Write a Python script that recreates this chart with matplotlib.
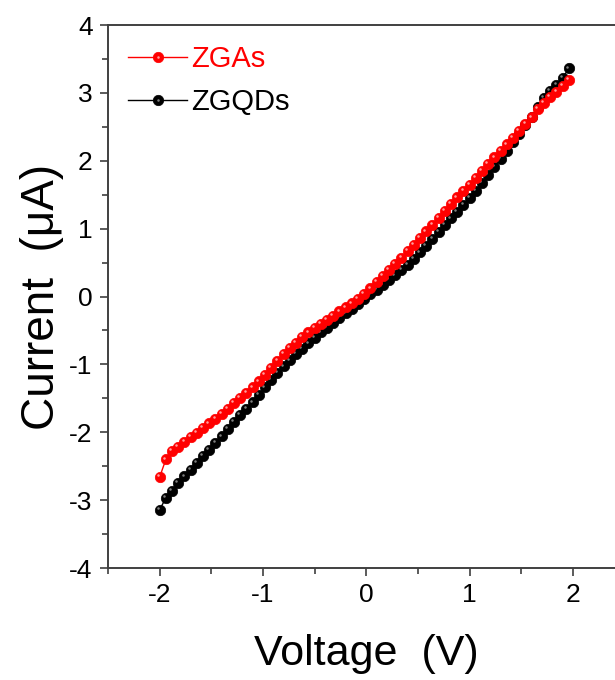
import matplotlib.pyplot as plt
import matplotlib.transforms as mtransforms
from matplotlib.legend_handler import HandlerTuple

plt.rcParams['font.family'] = ['Liberation Sans', 'DejaVu Sans']
plt.rcParams['axes.unicode_minus'] = False

voltage = [-2.00, -1.94, -1.88, -1.82, -1.76, -1.70, -1.64, -1.58, -1.52, -1.46,
           -1.40, -1.34, -1.28, -1.22, -1.16, -1.10, -1.04, -0.98, -0.92, -0.86,
           -0.80, -0.74, -0.68, -0.62, -0.56, -0.50, -0.44, -0.38, -0.32, -0.26,
           -0.20, -0.14, -0.08, -0.02, 0.04, 0.10, 0.16, 0.22, 0.28, 0.34,
           0.40, 0.46, 0.52, 0.58, 0.64, 0.70, 0.76, 0.82, 0.88, 0.94,
           1.00, 1.06, 1.12, 1.18, 1.24, 1.30, 1.36, 1.42, 1.48, 1.54,
           1.60, 1.66, 1.72, 1.78, 1.84, 1.90, 1.96]

zgas = [-2.66, -2.40, -2.28, -2.21, -2.14, -2.07, -2.01, -1.94, -1.87, -1.80,
        -1.73, -1.65, -1.57, -1.49, -1.42, -1.34, -1.25, -1.15, -1.05, -0.95,
        -0.85, -0.76, -0.68, -0.60, -0.53, -0.46, -0.40, -0.34, -0.28, -0.22,
        -0.16, -0.10, -0.04, 0.04, 0.12, 0.21, 0.30, 0.39, 0.48, 0.57,
        0.67, 0.76, 0.86, 0.96, 1.06, 1.16, 1.26, 1.36, 1.46, 1.56,
        1.65, 1.75, 1.85, 1.95, 2.05, 2.14, 2.24, 2.34, 2.44, 2.54,
        2.64, 2.76, 2.85, 2.94, 3.02, 3.10, 3.19]

zgqds = [-3.14, -2.97, -2.86, -2.75, -2.65, -2.56, -2.45, -2.35, -2.26, -2.16,
         -2.06, -1.95, -1.85, -1.75, -1.65, -1.56, -1.45, -1.34, -1.23, -1.13,
         -1.03, -0.94, -0.85, -0.77, -0.69, -0.61, -0.53, -0.46, -0.39, -0.32,
         -0.25, -0.18, -0.11, -0.04, 0.03, 0.10, 0.17, 0.24, 0.31, 0.39,
         0.47, 0.56, 0.65, 0.75, 0.85, 0.95, 1.05, 1.15, 1.25, 1.35,
         1.45, 1.56, 1.67, 1.79, 1.91, 2.03, 2.15, 2.27, 2.39, 2.52,
         2.65, 2.79, 2.93, 3.03, 3.12, 3.22, 3.36]

fig = plt.figure(figsize=(6.15, 6.8), dpi=100)
ax = fig.add_axes([0.1756, 0.1647, 0.84, 0.7985])

# little shift for the shiny spot on each ball
shine = mtransforms.ScaledTranslation(-1.8 / 100, 1.8 / 100, fig.dpi_scale_trans)


def balls(y, color, spot, label):
    main, = ax.plot(voltage, y, '-o', color=color, lw=1, ms=7.5,
                    mec=color, mew=0.5, label=label)
    hi, = ax.plot(voltage, y, 'o', color=spot, ms=1.8, mew=0, alpha=0.8,
                  transform=ax.transData + shine)
    return main, hi


h_qd = balls(zgqds, 'black', '#a0a0a0', 'ZGQDs')
h_ga = balls(zgas, '#ff0000', '#ffc8c8', 'ZGAs')

ax.set_xlim(-2.5, 2.5)
ax.set_ylim(-4, 4)
ax.set_xticks([-2, -1, 0, 1, 2])
ax.set_yticks([-4, -3, -2, -1, 0, 1, 2, 3, 4])
ax.set_xticks([-2.5, -1.5, -0.5, 0.5, 1.5], minor=True)
ax.set_yticks([-3.5, -2.5, -1.5, -0.5, 0.5, 1.5, 2.5, 3.5], minor=True)

for s in ax.spines.values():
    s.set_color('#404040')
    s.set_linewidth(1.4)

ax.tick_params(which='both', direction='out', color='#404040', width=1.2,
               labelsize=19, top=False, right=False)
ax.tick_params(which='major', length=6, pad=5)
ax.tick_params(which='minor', length=4)

ax.set_xlabel('Voltage  (V)', fontsize=31, labelpad=19)
ax.set_ylabel('Current  (\u03bcA)', fontsize=33, labelpad=4)

leg = ax.legend([h_ga, h_qd], ['ZGAs', 'ZGQDs'],
                handler_map={tuple: HandlerTuple(ndivide=1, pad=0)},
                loc='upper left', bbox_to_anchor=(0.0, 1.0), frameon=False,
                numpoints=1, fontsize=21, handlelength=2.0, handletextpad=0.15,
                labelspacing=0.5, borderaxespad=0.3)
leg.get_texts()[0].set_color('#ff0000')
leg.get_texts()[1].set_color('black')

fig.savefig('out.png', dpi=100)
